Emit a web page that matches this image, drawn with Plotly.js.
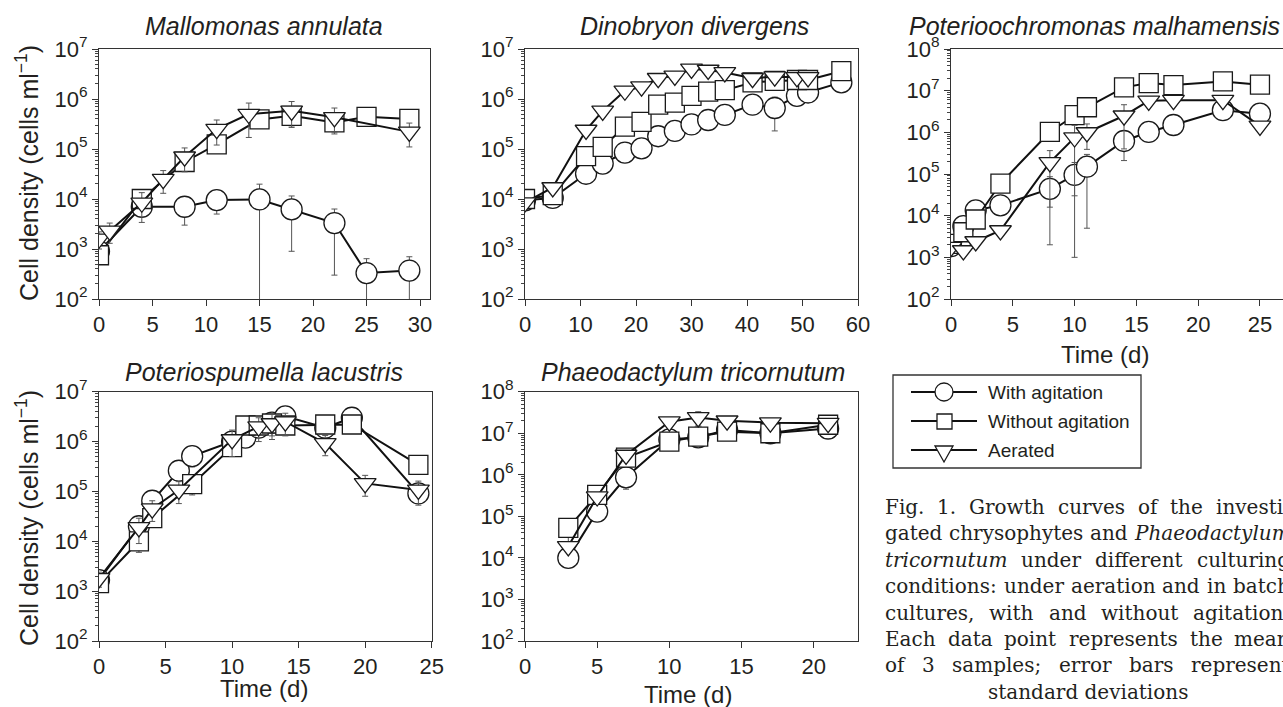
<!DOCTYPE html>
<html><head><meta charset="utf-8">
<script src="https://cdn.plot.ly/plotly-3.0.1.min.js"></script>
<style>html,body{margin:0;padding:0;overflow:hidden;background:#fff}#chart{width:1300px;height:707px}</style>
</head><body><div id="chart"></div>
<script>
// ---------------- DATA ----------------
// Mallomonas annulata
const maDaysWith = [0, 4, 8, 11, 15, 18, 22, 25, 29];
const maWith = [900, 7000, 7000, 9500, 9800, 6200, 3300, 330, 370];
const maWithSD = [0, 2400, 4000, 4500, 10000, 5300, 3000, 310, 330];
const maDaysWithout = [0, 4, 8, 11, 15, 18, 22, 25, 29];
const maWithout = [750, 10000, 55000, 124000, 390000, 460000, 340000, 440000, 400000];
const maWithoutSD = [150, 3000, 18000, 25000, 60000, 170000, 120000, 50000, 60000];
const maDaysAer = [0, 1, 4, 6, 8, 11, 14, 18, 22, 29];
const maAer = [1600, 2300, 8400, 25000, 70000, 250000, 500000, 580000, 430000, 220000];
const maAerSD = [600, 1000, 5000, 12000, 35000, 130000, 330000, 310000, 230000, 110000];

// Dinobryon divergens
const ddDays = [0, 5, 11, 14, 18, 21, 24, 27, 30, 33, 36, 41, 45, 49, 51, 57];
const ddWith = [9400, 10500, 32000, 51000, 85000, 103000, 180000, 230000, 310000, 380000, 480000, 770000, 660000, 1160000, 1350000, 2150000];
const ddWithSD = [0, 0, 0, 0, 0, 0, 0, 0, 0, 0, 0, 0, 430000, 0, 0, 0];
const ddWithout = [10000, 12000, 72000, 110000, 280000, 350000, 770000, 850000, 1160000, 1400000, 1500000, 2150000, 2300000, 2400000, 2400000, 3600000];
const ddDaysAer = [0, 5, 11, 14, 18, 21, 24, 27, 30, 33, 36, 41, 45, 49, 51];
const ddAer = [8500, 17000, 240000, 580000, 1460000, 1760000, 2600000, 2900000, 4000000, 3800000, 3400000, 2600000, 2800000, 2700000, 2700000];

// Poterioochromonas malhamensis
const pmDays = [0, 1, 2, 4, 8, 10, 11, 14, 16, 18, 22, 25];
const pmWith = [1850, 5600, 13400, 17700, 44000, 95000, 150000, 620000, 1020000, 1500000, 3400000, 2800000];
const pmWithSD = [0, 0, 0, 0, 42000, 94000, 145000, 410000, 0, 0, 0, 0];
const pmWithout = [2100, 4000, 8100, 59000, 1020000, 2600000, 4000000, 12000000, 15200000, 13600000, 16700000, 13900000];
const pmAer = [1760, 1460, 2400, 4400, 190000, 750000, 990000, 2500000, 5700000, 5900000, 5900000, 1430000];
const pmAerSD = [0, 0, 0, 0, 174000, 720000, 600000, 2100000, 0, 0, 0, 0];

// Poteriospumella lacustris
const plDaysWith = [0, 3, 4, 6, 7, 10, 11, 12, 13, 14, 17, 19, 24];
const plWith = [1670, 20000, 65000, 260000, 510000, 1000000, 1200000, 1900000, 2400000, 3200000, 1900000, 3000000, 91000];
const plWithSD = [700, 8000, 10000, 60000, 200000, 0, 0, 0, 0, 800000, 0, 0, 0];
const plDaysWithout = [0, 3, 4, 7, 10, 11, 12, 13, 14, 17, 19, 24];
const plWithout = [1450, 10000, 29000, 140000, 770000, 2100000, 2100000, 2300000, 2100000, 2200000, 2200000, 340000];
const plWithoutSD = [400, 4000, 8000, 55000, 140000, 0, 600000, 1000000, 700000, 600000, 500000, 0];
const plDaysAer = [0, 3, 4, 6, 10, 12, 13, 14, 17, 20, 24];
const plAer = [1800, 19000, 45000, 107000, 1100000, 2000000, 2300000, 2500000, 920000, 145000, 107000];
const plAerSD = [600, 10000, 20000, 50000, 600000, 1000000, 1200000, 1200000, 400000, 65000, 54000];

// Phaeodactylum tricornutum
const ptDays = [3, 5, 7, 10, 12, 14, 17, 21];
const ptWith = [10000, 130000, 870000, 7100000, 8000000, 12000000, 10000000, 13000000];
const ptWithSD = [0, 0, 420000, 0, 0, 0, 0, 0];
const ptWithout = [53000, 330000, 2600000, 6300000, 8300000, 10900000, 10000000, 16000000];
const ptWithoutSD = [30000, 0, 0, 0, 0, 0, 0, 0];
const ptAer = [19000, 300000, 3000000, 19000000, 24000000, 20000000, 18000000, 17500000];
const ptAerSD = [0, 0, 0, 0, 9000000, 0, 0, 0];

const panelTitles = ['Mallomonas annulata', 'Dinobryon divergens', 'Poterioochromonas malhamensis', 'Poteriospumella lacustris', 'Phaeodactylum tricornutum'];
const seriesNames = ['With agitation', 'Without agitation', 'Aerated'];
const yTitle = 'Cell density (cells ml<sup>\u22121</sup>)';
const xTitle = 'Time (d)';
const captionLines = [
  ['Fig.', '1.', 'Growth', 'curves', 'of', 'the', 'investi-'],
  ['gated', 'chrysophytes', 'and', '<i>Phaeodactylum</i>'],
  ['<i>tricornutum</i>', 'under', 'different', 'culturing'],
  ['conditions:', 'under', 'aeration', 'and', 'in', 'batch'],
  ['cultures,', 'with', 'and', 'without', 'agitation.'],
  ['Each', 'data', 'point', 'represents', 'the', 'mean'],
  ['of', '3', 'samples;', 'error', 'bars', 'represent'],
  ['standard', 'deviations']
];

// ---------------- LAYOUT GEOMETRY ----------------
const W = 1300, H = 707;
const px = v => v / W, py = v => 1 - v / H;
const SANS = 'Liberation Sans, Arial, Helvetica, sans-serif';
const INK = '#231f20';

const panels = [
  {x0: 99,  x1: 430,   y0: 49,    y1: 299, xr: [0, 30.93], yr: [2, 7], dt: 5},
  {x0: 525, x1: 858,   y0: 49,    y1: 299, xr: [0, 60],    yr: [2, 7], dt: 10},
  {x0: 951, x1: 1300,  y0: 49,    y1: 299, xr: [0, 28.24], yr: [2, 8], dt: 5},
  {x0: 99,  x1: 431.7, y0: 391.7, y1: 641, xr: [0, 25],    yr: [2, 7], dt: 5},
  {x0: 525, x1: 857.7, y0: 391.7, y1: 641, xr: [0, 23.05], yr: [2, 8], dt: 5}
];

const layout = {
  width: W, height: H,
  margin: {l: 0, r: 0, t: 0, b: 0},
  paper_bgcolor: '#fff', plot_bgcolor: '#fff',
  showlegend: false,
  font: {family: SANS, color: INK},
  annotations: [], shapes: []
};

panels.forEach((p, i) => {
  const n = i === 0 ? '' : String(i + 1);
  const majors = [], labels = [], minors = [];
  for (let e = p.yr[0]; e <= p.yr[1]; e++) {
    majors.push(Math.pow(10, e)); labels.push('10<sup>' + e + '</sup>');
    if (e < p.yr[1]) for (let k = 2; k <= 9; k++) minors.push(k * Math.pow(10, e));
  }
  layout['xaxis' + n] = {
    domain: [px(p.x0), px(p.x1)], range: p.xr, anchor: 'y' + n,
    showline: true, linecolor: '#333', linewidth: 1, mirror: true,
    ticks: 'outside', ticklen: 6, tickwidth: 1, tickcolor: '#333',
    tick0: 0, dtick: p.dt, showgrid: false, zeroline: false,
    tickfont: {size: 22, family: SANS, color: INK}, fixedrange: true
  };
  layout['yaxis' + n] = {
    domain: [py(p.y1), py(p.y0)], range: p.yr, type: 'log', anchor: 'x' + n,
    showline: true, linecolor: '#333', linewidth: 1, mirror: true,
    ticks: 'outside', ticklen: 6, tickwidth: 1, tickcolor: '#333',
    tickmode: 'array', tickvals: majors, ticktext: labels,
    minor: {ticks: 'outside', ticklen: 3, tickwidth: 1, tickcolor: '#444', tickvals: minors, showgrid: false},
    showgrid: false, zeroline: false,
    tickfont: {size: 22, family: SANS, color: INK}, fixedrange: true
  };
});

// ---------------- TRACES ----------------
const sym = {c: 'circle', s: 'square', t: 'triangle-down'};
const msize = {c: 21, s: 19, t: 19};
function tr(panel, kind, days, vals, sd) {
  const n = panel === 0 ? '' : String(panel + 1);
  const t = {
    type: 'scatter', mode: 'lines+markers', x: days, y: vals,
    xaxis: 'x' + n, yaxis: 'y' + n,
    line: {color: '#111', width: 2},
    marker: {symbol: sym[kind], size: msize[kind], color: '#fff', line: {color: '#1a1a1a', width: 1.3}},
    cliponaxis: true, hoverinfo: 'skip'
  };
  if (sd) t.error_y = {type: 'data', array: sd, visible: true, color: '#555', thickness: 1, width: 3};
  return t;
}
const data = [
  tr(0, 'c', maDaysWith, maWith, maWithSD),
  tr(0, 's', maDaysWithout, maWithout, maWithoutSD),
  tr(0, 't', maDaysAer, maAer, maAerSD),
  tr(1, 'c', ddDays, ddWith, ddWithSD),
  tr(1, 's', ddDays, ddWithout, null),
  tr(1, 't', ddDaysAer, ddAer, null),
  tr(2, 'c', pmDays, pmWith, pmWithSD),
  tr(2, 's', pmDays, pmWithout, null),
  tr(2, 't', pmDays, pmAer, pmAerSD),
  tr(3, 'c', plDaysWith, plWith, plWithSD),
  tr(3, 's', plDaysWithout, plWithout, plWithoutSD),
  tr(3, 't', plDaysAer, plAer, plAerSD),
  tr(4, 'c', ptDays, ptWith, ptWithSD),
  tr(4, 's', ptDays, ptWithout, ptWithoutSD),
  tr(4, 't', ptDays, ptAer, ptAerSD)
];

// ---------------- TEXT ----------------
const A = layout.annotations;
function ann(x, y, text, opts) {
  A.push(Object.assign({xref: 'paper', yref: 'paper', x: px(x), y: py(y), text: text, showarrow: false,
    xanchor: 'center', yanchor: 'middle', borderpad: 0, borderwidth: 0,
    font: {family: SANS, size: 24, color: INK}}, opts || {}));
}
const titlePos = [[264, 26], [694, 26], [1094, 26], [264, 372], [693, 372]];
panelTitles.forEach((t, i) => ann(titlePos[i][0], titlePos[i][1], '<i>' + t + '</i>', {font: {family: SANS, size: 25, color: INK}}));
ann(27, 173, yTitle, {textangle: -90, font: {family: SANS, size: 25, color: INK}});
ann(27, 518, yTitle, {textangle: -90, font: {family: SANS, size: 25, color: INK}});
ann(1105, 354, xTitle);
ann(264, 688, xTitle);
ann(688, 694, xTitle);

// legend (drawn as decoration)
const S = layout.shapes;
S.push({type: 'rect', xref: 'paper', yref: 'paper', x0: px(893), x1: px(1141), y0: py(468), y1: py(375), line: {color: '#333', width: 1.3}, fillcolor: 'rgba(0,0,0,0)'});
const legRows = [392, 421, 450];
legRows.forEach((yy, i) => {
  S.push({type: 'line', xref: 'paper', yref: 'paper', x0: px(911), x1: px(977), y0: py(yy), y1: py(yy), line: {color: '#111', width: 2}});
  ann(988, yy, seriesNames[i], {xanchor: 'left', font: {family: SANS, size: 19, color: INK}});
});
S.push({type: 'circle', xref: 'paper', yref: 'paper', x0: px(935), x1: px(953), y0: py(401), y1: py(383), fillcolor: '#fff', line: {color: '#1a1a1a', width: 1.3}});
S.push({type: 'rect', xref: 'paper', yref: 'paper', x0: px(937), x1: px(952), y0: py(429), y1: py(414), fillcolor: '#fff', line: {color: '#1a1a1a', width: 1.3}});
S.push({type: 'path', xref: 'paper', yref: 'paper',
  path: 'M' + px(935) + ',' + py(446) + ' L' + px(953) + ',' + py(446) + ' L' + px(944) + ',' + py(462) + ' Z',
  fillcolor: '#fff', line: {color: '#1a1a1a', width: 1.3}});

// caption, justified using measured word widths
const SERIF = 'DejaVu Serif';
const cv = document.createElement('canvas').getContext('2d');
function wordWidth(w) {
  const it = w.indexOf('<i>') >= 0;
  cv.font = (it ? 'italic ' : '') + '20px "' + SERIF + '"';
  return cv.measureText(w.replace(/<\/?i>/g, '')).width;
}
const capL = 885, capR = 1290, capY0 = 507, capDY = 26.4;
captionLines.forEach((words, li) => {
  const yy = capY0 + li * capDY;
  const ws = words.map(wordWidth);
  const tot = ws.reduce((a, b) => a + b, 0);
  if (li === captionLines.length - 1) {
    ann((capL + capR) / 2, yy, words.join(' '), {font: {family: SERIF, size: 20, color: INK}});
    return;
  }
  const gap = (capR - capL - tot) / (words.length - 1);
  let x = capL;
  words.forEach((w, k) => {
    ann(x, yy, w, {xanchor: 'left', font: {family: SERIF, size: 20, color: INK}});
    x += ws[k] + gap;
  });
});

Plotly.newPlot('chart', data, layout, {staticPlot: true, displayModeBar: false});
</script></body></html>
